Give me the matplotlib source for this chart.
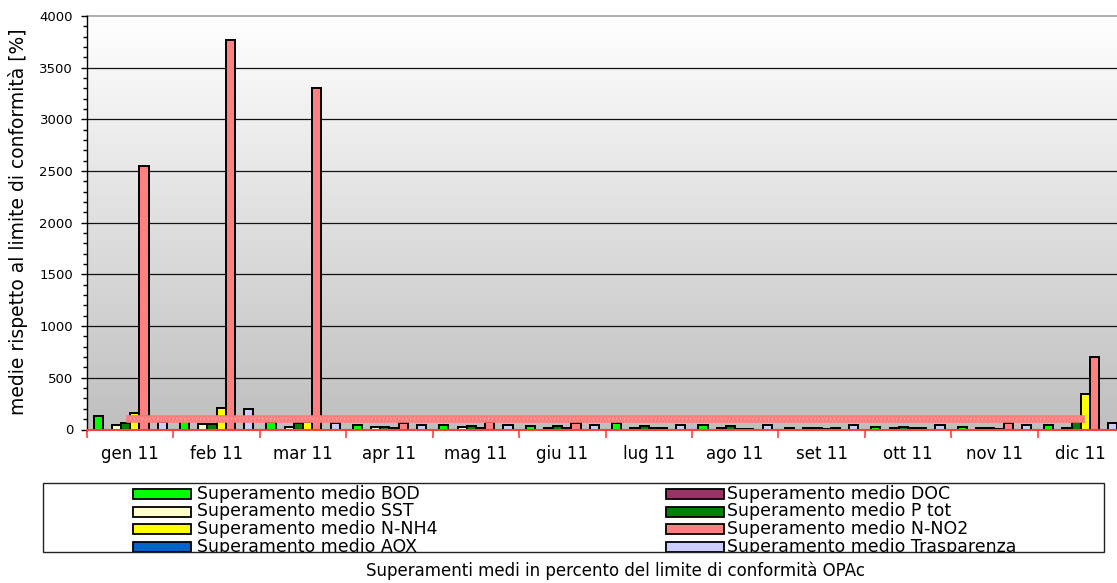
import numpy as np
import matplotlib
matplotlib.use("Agg")
import matplotlib.pyplot as plt
from matplotlib.patches import Rectangle
from matplotlib.colors import LinearSegmentedColormap
from matplotlib.ticker import MultipleLocator

# ---------------- data ----------------
months = ['gen 11', 'feb 11', 'mar 11', 'apr 11', 'mag 11', 'giu 11',
          'lug 11', 'ago 11', 'set 11', 'ott 11', 'nov 11', 'dic 11']
series_names = ['Superamento medio BOD', 'Superamento medio DOC',
                'Superamento medio SST', 'Superamento medio P tot',
                'Superamento medio N-NH4', 'Superamento medio N-NO2',
                'Superamento medio AOX', 'Superamento medio Trasparenza']
bod   = [130, 80, 75, 39, 42, 35, 60, 42, 19, 29, 26, 48]
doc   = [0, 0, 0, 0, 0, 0, 0, 0, 0, 0, 0, 0]
sst   = [42, 52, 26, 23, 22, 16, 19, 19, 19, 19, 12, 19]
ptot  = [61, 55, 60, 29, 32, 32, 36, 32, 19, 29, 19, 70]
nnh4  = [155, 210, 70, 10, 12, 12, 12, 6, 8, 12, 6, 340]
nno2  = [2550, 3765, 3300, 65, 70, 62, 12, 9, 10, 16, 63, 705]
aox   = [0, 0, 0, 0, 0, 0, 0, 0, 0, 0, 0, 0]
trasp = [75, 195, 65, 45, 48, 48, 48, 48, 48, 48, 48, 63]
limite = [100] * 12

colors = ['#00FF00', '#993366', '#FFFFCC', '#008000',
          '#FFFF00', '#FF8080', '#0066CC', '#CCCCFF']

ylabel = 'medie rispetto al limite di conformità [%]'
title = 'Superamenti medi in percento del limite di conformità OPAc'

# ---------------- figure ----------------
W, H = 1117, 583
fig = plt.figure(figsize=(W / 100, H / 100), dpi=100)
plt.rcParams['font.family'] = ['DejaVu Sans']

def fx(px):
    return px / W

def fy(py):
    return 1 - py / H

ax_l, ax_r, ax_t, ax_b = 87, 1124, 16, 429.5
ax = fig.add_axes([fx(ax_l), fy(ax_b), fx(ax_r - ax_l), (ax_b - ax_t) / H])

n = len(months)
x = np.arange(n)

# gradient background: white at top, grey at bottom
grad = np.linspace(0, 1, 256).reshape(-1, 1)
cmap = LinearSegmentedColormap.from_list('bg', ['#BFBFBF', '#FFFFFF'])
ax.imshow(grad, cmap=cmap, aspect='auto', extent=[-0.5, n - 0.5, 0, 4000],
          origin='lower', zorder=0)
ax.set_xlim(-0.5, n - 0.5)
ax.set_ylim(0, 4000)

# grid
for yv in range(500, 4000, 500):
    ax.axhline(yv, color='#111111', lw=0.9, zorder=1)
ax.axhline(4000, color='#A0A0A0', lw=1.2, zorder=1, clip_on=False)

# bars
all_series = [bod, doc, sst, ptot, nnh4, nno2, aox, trasp]
w = 0.106
for j, (vals, col) in enumerate(zip(all_series, colors)):
    vals = np.asarray(vals, dtype=float)
    m = vals > 0
    ax.bar(x[m] + (j - 3.5) * w, vals[m], width=w, color=col,
           edgecolor='black', linewidth=1.4, zorder=3)

# limit band
ax.plot(x, limite, color='#FF7A7A', lw=5.5, solid_capstyle='projecting', zorder=4)
ax.plot(x, limite, color='white', lw=1.4, ls=(0, (0.6, 1.4)), alpha=0.35,
        zorder=5, dash_capstyle='butt')
ax.plot(x, np.asarray(limite) + 22, color='white', lw=1.0, ls=(0, (0.6, 1.6)),
        alpha=0.3, zorder=5)
ax.plot(x, np.asarray(limite) - 22, color='white', lw=1.0, ls=(0.8, (0.6, 1.6)),
        alpha=0.3, zorder=5)

# spines & ticks
for s in ['top', 'right']:
    ax.spines[s].set_visible(False)
ax.spines['left'].set_color('black')
ax.spines['left'].set_linewidth(1.0)
ax.spines['bottom'].set_color('#FF4040')
ax.spines['bottom'].set_linewidth(1.5)
ax.spines['bottom'].set_zorder(6)

ax.yaxis.set_major_locator(MultipleLocator(500))
ax.yaxis.set_minor_locator(MultipleLocator(100))
ax.tick_params(axis='y', which='major', length=4, width=1, color='black',
               labelsize=9.5, pad=6)
ax.tick_params(axis='y', which='minor', length=3, width=1, color='black')

ax.set_xticks(x)
ax.set_xticklabels(months)
ax.set_xticks(np.arange(-0.5, n, 1.0), minor=True)
ax.tick_params(axis='x', which='major', length=0, labelsize=12, pad=11)
ax.tick_params(axis='x', which='minor', length=6, width=1.2, color='#FF4040')

fig.text(fx(18), fy(222), ylabel, rotation=90, ha='center', va='center',
         fontsize=13.5)

# legend box (manual, clipped like the reference)
box = Rectangle((fx(43), fy(552)), fx(1104 - 43), (552 - 483) / H,
                transform=fig.transFigure, facecolor='white',
                edgecolor='#222222', lw=1.0, zorder=1)
fig.add_artist(box)
row_y = [494, 511.5, 529, 546.5]
col_hx = [133, 666]
col_tx = [197, 727]
for k, (name, col) in enumerate(zip(series_names, colors)):
    r, c = divmod(k, 2)
    cy = row_y[r]
    hp = Rectangle((fx(col_hx[c]), fy(cy + 5)), fx(58), 10 / H,
                   transform=fig.transFigure, facecolor=col,
                   edgecolor='black', lw=1.3, zorder=2)
    fig.add_artist(hp)
    hp.set_clip_path(box)
    t = fig.text(fx(col_tx[c]), fy(cy), name, ha='left', va='center',
                 fontsize=12.5, zorder=2)
    t.set_clip_path(box)

fig.text(fx(616), fy(571), title, ha='center', va='center', fontsize=12)

fig.savefig('out.png', dpi=100)
